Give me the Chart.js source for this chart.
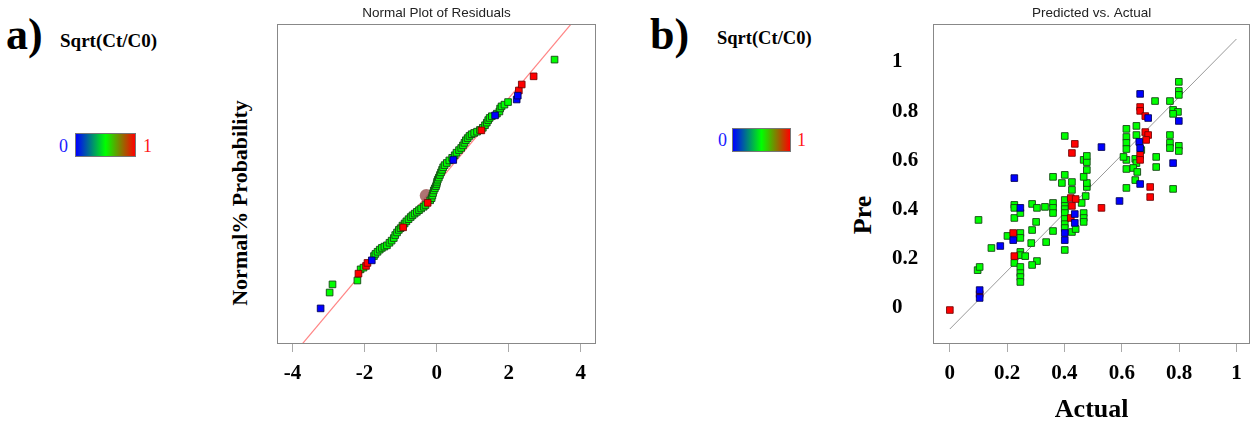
<!DOCTYPE html>
<html>
<head>
<meta charset="utf-8">
<script src="https://cdn.jsdelivr.net/npm/chart.js@4.4.0/dist/chart.umd.min.js"></script>
<style>
  body { margin: 0; background: #fff; }
  #page { position: relative; width: 1256px; height: 426px; overflow: hidden; font-family: "Liberation Serif", serif; }
  .abs { position: absolute; white-space: nowrap; }
  .panel { font-weight: bold; font-size: 44px; line-height: 44px; }
  .var { font-weight: bold; font-size: 19px; line-height: 19px; }
  .cbar { border: 1px solid #777; box-sizing: border-box; background: linear-gradient(to right, #0000ff, #00ff00, #ff0000); }
  .cb0 { color: #1a1aff; font-size: 18px; line-height: 18px; }
  .cb1 { color: #ff1a1a; font-size: 18px; line-height: 18px; }
  .ytitle { font-weight: bold; transform: translate(-50%, -50%) rotate(-90deg); }
  canvas { position: absolute; top: 0; }
</style>
</head>
<body>
<div id="page">
  <div class="abs panel" style="left:6px; top:13px;">a)</div>
  <div class="abs var" style="left:60px; top:31px;">Sqrt(Ct/C0)</div>
  <div class="abs cbar" style="left:75px; top:133px; width:61px; height:24px;"></div>
  <div class="abs cb0" style="left:59px; top:137px;">0</div>
  <div class="abs cb1" style="left:143px; top:137px;">1</div>
  <div class="abs ytitle" style="left:240px; top:203px; font-size:22px;">Normal% Probability</div>

  <div class="abs panel" style="left:650px; top:13px;">b)</div>
  <div class="abs var" style="left:717px; top:29px; font-size:18.5px;">Sqrt(Ct/C0)</div>
  <div class="abs cbar" style="left:732px; top:128px; width:59px; height:24px;"></div>
  <div class="abs cb0" style="left:718px; top:131px;">0</div>
  <div class="abs cb1" style="left:797px; top:131px;">1</div>
  <div class="abs ytitle" style="left:863px; top:215px; font-size:26px;">Pre</div>

  <canvas id="normal-chart" width="420" height="426" style="left:200px;"></canvas>
  <canvas id="pred-chart" width="364" height="426" style="left:892px;"></canvas>
</div>
<script>
// a) normal plot of residuals
const resTicks = [-4, -2, 0, 2, 4];
const resGreen = [-2.97,-2.89,-2.20,-2.11,-2.03,-1.74,-1.70,-1.64,-1.58,-1.52,-1.45,-1.38,-1.31,-1.25,-1.19,-1.15,-1.10,-1.05,-1.00,-0.95,-0.89,-0.84,-0.78,-0.72,-0.67,-0.61,-0.55,-0.49,-0.43,-0.36,-0.31,-0.18,-0.14,-0.12,-0.10,-0.08,-0.05,-0.02,0.00,0.01,0.03,0.06,0.09,0.12,0.15,0.18,0.22,0.28,0.35,0.43,0.50,0.55,0.62,0.68,0.73,0.77,0.81,0.86,0.91,0.97,1.04,1.12,1.20,1.28,1.34,1.39,1.43,1.47,1.53,1.67,1.74,1.76,1.80,1.88,1.98,3.27];
const probGreen = [-2.53,-2.34,-2.25,-1.99,-1.95,-1.68,-1.63,-1.58,-1.53,-1.49,-1.46,-1.43,-1.37,-1.32,-1.26,-1.19,-1.13,-1.07,-1.03,-0.97,-0.92,-0.87,-0.82,-0.77,-0.73,-0.69,-0.65,-0.61,-0.57,-0.53,-0.49,-0.38,-0.33,-0.27,-0.21,-0.15,-0.10,-0.05,0.00,0.05,0.10,0.15,0.21,0.27,0.33,0.39,0.44,0.49,0.55,0.61,0.67,0.73,0.79,0.84,0.90,0.96,1.02,1.07,1.12,1.16,1.19,1.22,1.26,1.31,1.37,1.43,1.49,1.54,1.58,1.64,1.69,1.76,1.81,1.85,1.91,2.90];
const resRed = [-2.17,-1.96,-1.92,-0.93,-0.25,1.24,2.28,2.36,2.69];
const probRed = [-2.09,-1.91,-1.84,-1.01,-0.44,1.25,2.18,2.32,2.51];
const resBlue = [-3.22,-1.80,0.46,1.62,2.22,2.25];
const probBlue = [-2.90,-1.78,0.56,1.60,1.97,2.06];
const resMarked = [-0.29];
const probMarked = [-0.27];
const normLineX = [-4.5, 4.5];
const normLineY = [-4.5, 4.5];

// b) predicted vs actual
const actTicks = [0, 0.2, 0.4, 0.6, 0.8, 1];
const preTicks = [0, 0.2, 0.4, 0.6, 0.8, 1];
const actualGreen = [0.097,0.104,0.100,0.145,0.201,0.225,0.225,0.225,0.246,0.246,0.246,0.246,0.246,0.263,0.225,0.246,0.246,0.246,0.246,0.287,0.304,0.332,0.301,0.287,0.284,0.304,0.287,0.336,0.360,0.360,0.360,0.360,0.360,0.391,0.401,0.426,0.426,0.401,0.401,0.401,0.401,0.401,0.401,0.401,0.401,0.401,0.426,0.439,0.460,0.467,0.467,0.467,0.474,0.478,0.478,0.467,0.478,0.467,0.478,0.478,0.616,0.616,0.616,0.616,0.616,0.606,0.616,0.616,0.651,0.651,0.668,0.647,0.651,0.640,0.654,0.647,0.716,0.768,0.799,0.799,0.799,0.779,0.796,0.779,0.768,0.768,0.768,0.799,0.799,0.720,0.720,0.779];
const predGreen = [0.154,0.167,0.358,0.244,0.293,0.419,0.407,0.366,0.386,0.305,0.285,0.228,0.215,0.211,0.183,0.167,0.142,0.126,0.106,0.423,0.407,0.411,0.350,0.317,0.264,0.191,0.175,0.268,0.427,0.407,0.386,0.313,0.533,0.508,0.541,0.512,0.480,0.699,0.439,0.415,0.402,0.386,0.362,0.341,0.325,0.236,0.309,0.321,0.427,0.386,0.366,0.350,0.455,0.492,0.508,0.533,0.561,0.602,0.593,0.618,0.728,0.695,0.671,0.646,0.602,0.614,0.565,0.488,0.740,0.703,0.642,0.606,0.589,0.569,0.553,0.520,0.841,0.841,0.919,0.882,0.866,0.805,0.797,0.789,0.703,0.671,0.650,0.659,0.638,0.614,0.573,0.484];
const actualRed = [0.000,0.104,0.221,0.225,0.422,0.426,0.439,0.422,0.436,0.426,0.529,0.664,0.664,0.682,0.682,0.692,0.685,0.664,0.664,0.699,0.699];
const predRed = [-0.008,0.057,0.305,0.211,0.447,0.415,0.443,0.366,0.667,0.630,0.407,0.817,0.801,0.780,0.715,0.703,0.683,0.622,0.602,0.492,0.451];
const actualBlue = [0.104,0.104,0.176,0.221,0.225,0.246,0.401,0.401,0.436,0.436,0.529,0.592,0.664,0.692,0.661,0.664,0.664,0.799,0.779];
const predBlue = [0.073,0.041,0.252,0.276,0.528,0.407,0.305,0.276,0.382,0.346,0.654,0.435,0.870,0.772,0.675,0.650,0.504,0.760,0.589];
const fitLineX = [0, 1];
const fitLineY = [-0.085, 1.093];

const pairs = (xs, ys) => xs.map((x, i) => ({ x: x, y: ys[i] }));

// grey box round the plot area
const framePlugin = {
    id: "frame",
    afterDatasetsDraw(chart) {
        const { ctx, chartArea: a } = chart;
        ctx.save();
        ctx.strokeStyle = "#888";
        ctx.lineWidth = 1;
        ctx.strokeRect(Math.round(a.left) + 0.5, Math.round(a.top) + 0.5,
            Math.round(a.right - a.left) - 1, Math.round(a.bottom - a.top) - 1);
        ctx.restore();
    }
};

const tickFont = { family: "Liberation Serif", size: 21, weight: "bold" };
const titleFont = { family: "Liberation Sans", size: 13.5, weight: "normal" };
const plainLabel = (v) => String(v);

function squares(xs, ys, fill, edge, order) {
    return {
        data: pairs(xs, ys),
        backgroundColor: fill,
        borderColor: edge,
        borderWidth: 1,
        pointStyle: "rect",
        pointRadius: 4.7,
        order: order
    };
}

new Chart(document.getElementById("normal-chart"), {
    type: "scatter",
    data: {
        datasets: [
            squares(resBlue, probBlue, "#0000ff", "rgba(0,0,80,0.85)", 0),
            squares(resRed, probRed, "#ff0000", "rgba(110,0,0,0.85)", 0),
            squares(resGreen, probGreen, "#00ff00", "rgba(20,70,20,0.9)", 1),
            {
                data: pairs(resMarked, probMarked),
                pointStyle: "circle",
                pointRadius: 6.5,
                backgroundColor: "rgba(160,90,90,0.85)",
                borderWidth: 0,
                order: 2
            },
            {
                data: pairs(normLineX, normLineY),
                showLine: true,
                borderColor: "rgba(255,110,110,0.85)",
                borderWidth: 1.2,
                pointRadius: 0,
                order: 3
            }
        ]
    },
    options: {
        responsive: false,
        animation: false,
        layout: { padding: { right: 24 } },
        plugins: {
            legend: { display: false },
            tooltip: { enabled: false },
            title: {
                display: true, text: "Normal Plot of Residuals", fullSize: false,
                color: "#222", font: titleFont, padding: { top: 5, bottom: 2.8 }
            }
        },
        scales: {
            x: {
                type: "linear", min: -4.43, max: 4.42,
                afterBuildTicks: (s) => { s.ticks = resTicks.map(v => ({ value: v })); },
                afterFit: (s) => { s.height = 82; },
                grid: { drawOnChartArea: false, tickLength: 8, color: "#aaa" },
                border: { display: false },
                ticks: { color: "#000", padding: 9.4, font: tickFont, callback: plainLabel }
            },
            y: {
                min: -3.73, max: 3.73,
                afterFit: (s) => { s.width = 77; },
                grid: { drawOnChartArea: false, drawTicks: false },
                border: { display: false },
                ticks: { display: false }
            }
        }
    },
    plugins: [framePlugin]
});

new Chart(document.getElementById("pred-chart"), {
    type: "scatter",
    data: {
        datasets: [
            squares(actualBlue, predBlue, "#0000ff", "rgba(0,0,80,0.85)", 0),
            squares(actualRed, predRed, "#ff0000", "rgba(110,0,0,0.85)", 0),
            squares(actualGreen, predGreen, "#00ff00", "rgba(20,70,20,0.9)", 1),
            {
                data: pairs(fitLineX, fitLineY),
                showLine: true,
                borderColor: "#999",
                borderWidth: 1,
                pointRadius: 0,
                order: 3
            }
        ]
    },
    options: {
        responsive: false,
        animation: false,
        layout: { padding: { right: 3 } },
        plugins: {
            legend: { display: false },
            tooltip: { enabled: false },
            title: {
                display: true, text: "Predicted vs. Actual", fullSize: false,
                color: "#222", font: titleFont, padding: { top: 5.4, bottom: 2.4 }
            }
        },
        scales: {
            x: {
                type: "linear", min: -0.0588, max: 1.0484,
                afterBuildTicks: (s) => { s.ticks = actTicks.map(v => ({ value: v })); },
                afterFit: (s) => { s.height = 82; },
                grid: { drawOnChartArea: false, tickLength: 8, color: "#aaa" },
                border: { display: false },
                ticks: { color: "#000", padding: 9.4, font: tickFont, callback: plainLabel },
                title: {
                    display: true, text: "Actual", color: "#000",
                    font: { family: "Liberation Serif", size: 26, weight: "bold" },
                    padding: { top: 0, bottom: 0 }
                }
            },
            y: {
                min: -0.146, max: 1.154,
                afterBuildTicks: (s) => { s.ticks = preTicks.map(v => ({ value: v })); },
                afterFit: (s) => { s.width = 41; },
                grid: { drawOnChartArea: false, drawTicks: false },
                border: { display: false },
                ticks: { color: "#000", crossAlign: "far", font: tickFont, callback: plainLabel }
            }
        }
    },
    plugins: [framePlugin]
});
</script>
</body>
</html>
